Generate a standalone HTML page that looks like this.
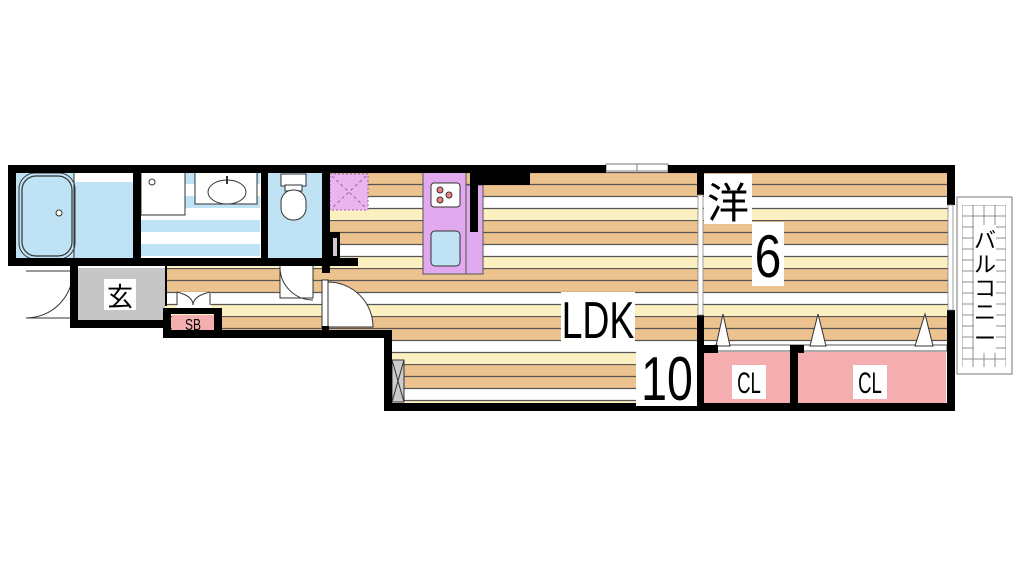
<!DOCTYPE html>
<html><head><meta charset="utf-8"><style>html,body{margin:0;padding:0;background:#fff;width:1024px;height:576px;overflow:hidden}</style></head>
<body>
<svg width="1024" height="576" viewBox="0 0 1024 576" xmlns="http://www.w3.org/2000/svg">
<defs>
<pattern id="fl" x="0" y="172" width="60" height="48" patternUnits="userSpaceOnUse">
<rect x="0" y="0" width="60" height="24" fill="#ecc28e"/>
<rect x="0" y="24" width="60" height="12" fill="#ffffff"/>
<rect x="0" y="36" width="60" height="12" fill="#fcf0c0"/>
<line x1="0" y1="0.5" x2="60" y2="0.5" stroke="#555" stroke-width="1.2"/>
<line x1="0" y1="12.5" x2="60" y2="12.5" stroke="#555" stroke-width="1.2"/>
<line x1="0" y1="24.5" x2="60" y2="24.5" stroke="#555" stroke-width="1.2"/>
<line x1="0" y1="36.5" x2="60" y2="36.5" stroke="#555" stroke-width="1.2"/>
</pattern>
<pattern id="wb" x="0" y="172" width="10" height="24" patternUnits="userSpaceOnUse">
<rect width="10" height="12" fill="#bfe3f5"/><rect y="12" width="10" height="12" fill="#fff"/>
</pattern>
<pattern id="grid" x="962" y="205" width="11" height="11" patternUnits="userSpaceOnUse">
<rect width="11" height="11" fill="#fff" stroke="#777" stroke-width="0.8"/>
</pattern>
</defs>
<rect x="165" y="266" width="165" height="66" fill="url(#fl)"/>
<rect x="328" y="172" width="372" height="166" fill="url(#fl)"/>
<rect x="390" y="330" width="310" height="75" fill="url(#fl)"/>
<rect x="700" y="172" width="250" height="176" fill="url(#fl)"/>
<rect x="14" y="172" width="122" height="88" fill="#bfe3f5"/>
<rect x="74" y="172" width="60" height="10" fill="#fff"/>
<rect x="22" y="176" width="50" height="80" rx="14" fill="#bfe3f5" stroke="#333" stroke-width="1.2"/>
<rect x="19" y="173" width="56" height="86" rx="16" fill="none" stroke="#333" stroke-width="1"/>
<circle cx="59" cy="213" r="3" fill="#fff" stroke="#333"/>
<line x1="74" y1="172" x2="74" y2="260" stroke="#333"/>
<rect x="141" y="172" width="119" height="88" fill="url(#wb)"/>
<rect x="141" y="172" width="44" height="43" fill="#fff" stroke="#333"/>
<circle cx="152" cy="182" r="3" fill="#fff" stroke="#333"/>
<rect x="195" y="172" width="62" height="32" fill="#fff" stroke="#333"/>
<ellipse cx="227" cy="192" rx="19" ry="12" fill="#fff" stroke="#333"/>
<line x1="227" y1="176" x2="227" y2="184" stroke="#333" stroke-width="2"/>
<rect x="268" y="172" width="55" height="88" fill="#bfe3f5"/>
<rect x="281" y="174" width="25" height="12" fill="#fff" stroke="#333"/>
<rect x="285" y="185" width="17" height="6" fill="#fff" stroke="#333"/>
<rect x="281" y="190" width="25" height="30" rx="12" fill="#fff" stroke="#333"/>
<rect x="78" y="268" width="87" height="52" fill="#c6c6c6"/>
<rect x="104" y="279" width="32" height="31" fill="#fff"/>
<text x="120" y="306" font-family="Liberation Sans,'Noto Sans CJK JP',sans-serif" font-size="26" text-anchor="middle">玄</text>
<path d="M73 271 A 47 47 0 0 1 26 318 L 73 318" fill="none" stroke="#333"/>
<line x1="26" y1="271" x2="73" y2="271" stroke="#333"/>
<rect x="72" y="268" width="4" height="52" fill="#fff" stroke="#333"/>
<rect x="177" y="292" width="34" height="16" fill="#fff"/>
<path d="M177 292 L177 305 M210 292 L210 305 M177 292 Q193 296 193 305 Q193 296 210 292" fill="none" stroke="#333"/>
<rect x="172" y="315" width="42" height="16" fill="#f4aeb0"/>
<text x="193" y="330" font-family="Liberation Sans,sans-serif" font-size="16" text-anchor="middle" transform="translate(193 0) scale(0.75 1) translate(-193 0)">SB</text>
<rect x="280" y="264" width="33" height="5" fill="#fff" stroke="#333"/>
<path d="M280 268 L280 298 L313 298 L313 268 M280 268 A 33 33 0 0 0 313 300" fill="#fff" stroke="#333"/>
<path d="M328 282 A 45 45 0 0 1 373 327 L 328 327 Z" fill="#fff" stroke="#333"/>
<rect x="322" y="280" width="6" height="48" fill="#fff" stroke="#333"/>
<rect x="330" y="174" width="38" height="36" fill="#e8b6ec" stroke="#a060b0" stroke-dasharray="2,2"/>
<path d="M332 176 L366 208 M366 176 L332 208" stroke="#a060b0" stroke-dasharray="3,3"/>
<rect x="423" y="172" width="43" height="102" fill="#e2aaee" stroke="#555"/>
<rect x="466" y="185" width="17" height="89" fill="#e2aaee" stroke="#555"/>
<rect x="431" y="183" width="29" height="24" rx="3" fill="#fff" stroke="#333"/>
<circle cx="440" cy="190" r="3" fill="#f08080" stroke="#333"/><circle cx="449" cy="195" r="3" fill="#f08080" stroke="#333"/><circle cx="440" cy="200" r="3" fill="#f08080" stroke="#333"/>
<rect x="431" y="231" width="29" height="35" rx="4" fill="#bfe3f5" stroke="#333"/>
<rect x="606" y="164" width="62" height="7" fill="#fff" stroke="#777"/>
<line x1="637" y1="164" x2="637" y2="171" stroke="#777"/>
<rect x="392" y="360" width="12" height="42" fill="#ccc" stroke="#333"/>
<path d="M392 360 L404 402 M404 360 L392 402" stroke="#333"/>
<rect x="704" y="352" width="86" height="52" fill="#f4aeb0"/>
<rect x="798" y="352" width="148" height="52" fill="#f4aeb0"/>
<rect x="715" y="345" width="232" height="6" fill="#fff" stroke="#555"/>
<path d="M716 346 L723 314 L730 346Z M810 346 L818 314 L826 346Z M915 346 L925 314 L933 346Z" fill="#fff" stroke="#333"/>
<g fill="#000">
<rect x="8" y="165" width="598" height="8"/>
<rect x="668" y="165" width="287" height="8"/>
<rect x="8" y="165" width="8" height="101"/>
<rect x="8" y="258" width="350" height="8"/>
<rect x="133" y="165" width="8" height="101"/>
<rect x="261" y="165" width="7" height="101"/>
<rect x="322" y="165" width="8" height="108"/>
<rect x="330" y="232" width="10" height="28"/>
<rect x="70" y="266" width="8" height="62"/>
<rect x="70" y="320" width="95" height="8"/>
<rect x="165" y="266" width="2" height="40"/>
<rect x="163" y="308" width="58" height="6"/>
<rect x="163" y="308" width="8" height="30"/>
<rect x="214" y="308" width="8" height="30"/>
<rect x="163" y="330" width="229" height="8"/>
<rect x="322" y="326" width="7" height="10"/>
<rect x="384" y="330" width="8" height="80"/>
<rect x="384" y="403" width="571" height="8"/>
<rect x="470" y="172" width="60" height="13"/>
<rect x="470" y="172" width="8" height="60"/>
<rect x="947" y="165" width="8" height="40"/>
<rect x="947" y="310" width="8" height="100"/>
<rect x="697" y="165" width="7" height="30"/>
<rect x="697" y="315" width="7" height="95"/>
<rect x="704" y="345" width="14" height="8"/>
<rect x="790" y="345" width="8" height="65"/>
<rect x="790" y="345" width="14" height="8"/>
</g>
<rect x="333" y="238" width="4" height="18" fill="#ccc"/>
<rect x="698" y="195" width="5" height="120" fill="#fff" stroke="#888" stroke-width="0.8"/>
<rect x="948" y="205" width="5" height="105" fill="#fff" stroke="#888" stroke-width="0.8"/>
<rect x="957" y="197" width="55" height="177" fill="#fff" stroke="#777"/>
<rect x="962" y="205" width="44" height="162" fill="url(#grid)"/>
<rect x="974" y="225" width="22" height="128" fill="#fff"/>
<text font-family="Liberation Sans,'Noto Sans CJK JP',sans-serif" font-size="22" text-anchor="middle" x="985"><tspan x="985" y="248">バ</tspan><tspan x="985" y="272">ル</tspan><tspan x="985" y="296">コ</tspan><tspan x="985" y="320">ニ</tspan><tspan x="985" y="346">ー</tspan></text>
<rect x="704" y="174" width="48" height="50" fill="#fff"/>
<text x="728" y="218" font-family="Liberation Sans,'Noto Sans CJK JP',sans-serif" font-size="42" text-anchor="middle">洋</text>
<rect x="752" y="222" width="32" height="64" fill="#fff"/>
<text x="768" y="277" font-family="Liberation Sans,sans-serif" font-size="60" text-anchor="middle" transform="translate(768 0) scale(0.8 1) translate(-768 0)">6</text>
<rect x="561" y="292" width="74" height="52" fill="#fff"/>
<text x="598" y="338" font-family="Liberation Sans,sans-serif" font-size="52" text-anchor="middle" transform="translate(598 0) scale(0.72 1) translate(-598 0)">LDK</text>
<rect x="636" y="344" width="61" height="62" fill="#fff"/>
<text x="667" y="400" font-family="Liberation Sans,sans-serif" font-size="62" text-anchor="middle" transform="translate(667 0) scale(0.75 1) translate(-667 0)">10</text>
<rect x="732" y="365" width="34" height="34" fill="#fff"/>
<text x="749" y="393" font-family="Liberation Sans,sans-serif" font-size="30" text-anchor="middle" transform="translate(749 0) scale(0.62 1) translate(-749 0)">CL</text>
<rect x="853" y="365" width="34" height="34" fill="#fff"/>
<text x="870" y="393" font-family="Liberation Sans,sans-serif" font-size="30" text-anchor="middle" transform="translate(870 0) scale(0.62 1) translate(-870 0)">CL</text>
</svg>
</body></html>
